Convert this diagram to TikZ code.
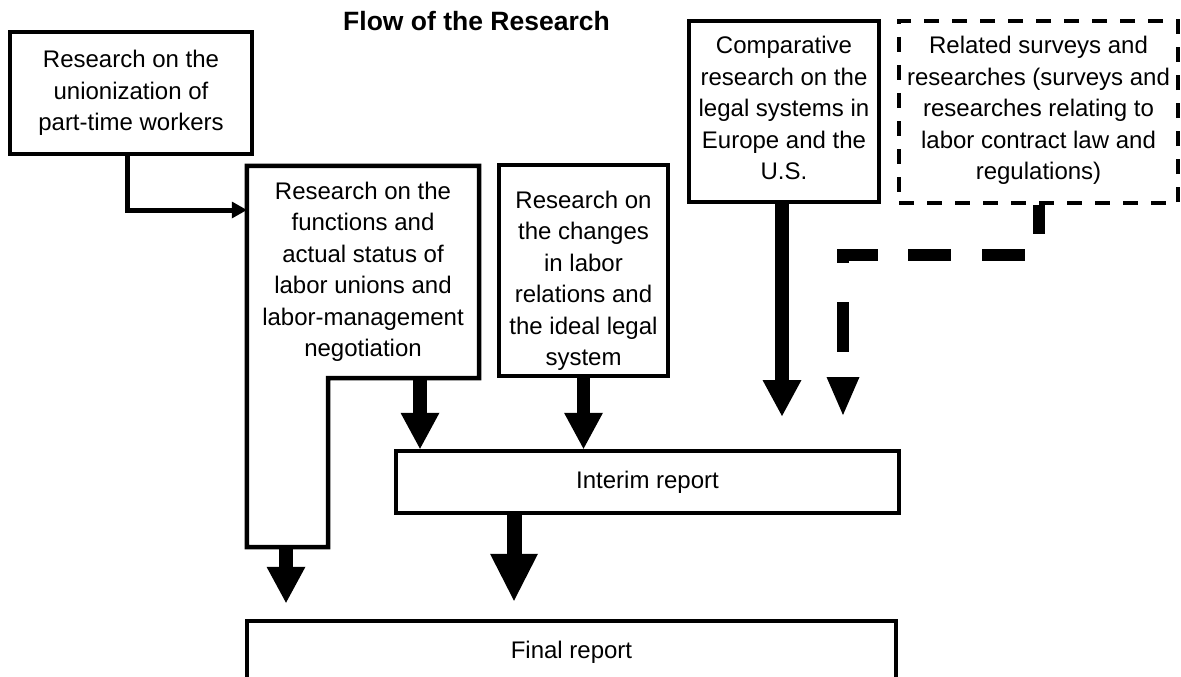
\documentclass[tikz,border=0pt]{standalone}
\usepackage{fontspec}
\setmainfont{Liberation Sans}
\usetikzlibrary{arrows.meta,calc}
\begin{document}
\begin{tikzpicture}[x=1pt,y=-1pt,
  box/.style={draw,line width=4.5pt,inner sep=0pt},
  dbox/.style={box,dash pattern=on 15pt off 13pt},
  txt/.style={align=center,inner sep=0pt,font=\fontsize{24}{31.5}\selectfont},
  thinarr/.style={line width=5pt,-{Triangle[length=15pt,width=17pt,line width=0pt]}},
  barrow/.style={line width=13.5pt,-{Triangle[length=36pt,width=39pt,line width=0pt]}},
  bigarrow/.style={line width=15pt,-{Triangle[length=47pt,width=48pt,line width=0pt]}},
  dasharr/.style={line width=12pt,dash pattern=on 29pt off 34.5pt on 43pt off 31pt on 43pt off 30pt on 43pt off 39pt on 50pt off 200pt,-{Triangle[length=38pt,width=33pt,line width=0pt]}}
]
\useasboundingbox (0,0) rectangle (1181,677);
\clip (0,0) rectangle (1181,677);
\node[font=\bfseries\fontsize{26.5}{30}\selectfont,anchor=base,inner sep=0pt] (title) at (476.5,31) {Flow of the Research};

\node[box,txt,minimum width=242pt,minimum height=122pt] (A) at (131,93) {Research on the\\unionization of\\part-time workers};

\node[txt,minimum width=232pt,minimum height=212pt] (B) at (363,272) {Research on the\\functions and\\actual status of\\labor unions and\\labor-management\\negotiation};
\coordinate (Bstep) at (328,378);
\coordinate (Bfoot) at (286,547);
\draw[line width=4.5pt] (B.north west) -- (B.north east) -- (B.south east) -- (Bstep) -- (Bstep |- Bfoot) -- (B.west |- Bfoot) -- cycle;

\node[box,minimum width=169pt,minimum height=211pt] (C) at (583.5,270.5) {};
\node[txt] (Ct) at (583.5,281) {Research on\\the changes\\in labor\\relations and\\the ideal legal\\system};

\node[box,minimum width=190pt,minimum height=181pt] (D) at (784,111.5) {};
\node[txt] (Dt) at (784,108) {Comparative\\research on the\\legal systems in\\Europe and the\\U.S.};

\node[dbox,minimum width=279pt,minimum height=182pt] (E) at (1038.5,112) {};
\node[txt] (Et) at (1038.5,110.5) {Related surveys and\\researches (surveys and\\researches relating to\\labor contract law and\\regulations)};

\node[box,txt,minimum width=503pt,minimum height=62pt] (I) at (647.5,482) {Interim report};
\node[box,txt,minimum width=649pt,minimum height=62pt] (F) at (571.5,652) {Final report};

\coordinate (ABturn) at (127,210);
\draw[thinarr] (A.south -| ABturn) -- (ABturn) -- (B.west |- ABturn);

\coordinate (x1) at (420,0);
\draw[barrow] (B.south -| x1) -- (I.north -| x1);
\draw[barrow] (C.south) -- (I.north -| C.south);

\coordinate (dEnd) at (782,416);
\draw[barrow] (D.south -| dEnd) -- (dEnd);

\coordinate (eCorner) at (843,255);
\coordinate (eEnd) at (843,415);
\draw[dasharr] (E.south) |- (eCorner) -- (eEnd);

\coordinate (x2) at (514,0);
\draw[bigarrow] (I.south -| x2) -- ($(F.north -| x2)+(0,-18)$);
\draw[barrow] (Bfoot) -- ($(F.north -| Bfoot)+(0,-16)$);
\end{tikzpicture}
\end{document}
